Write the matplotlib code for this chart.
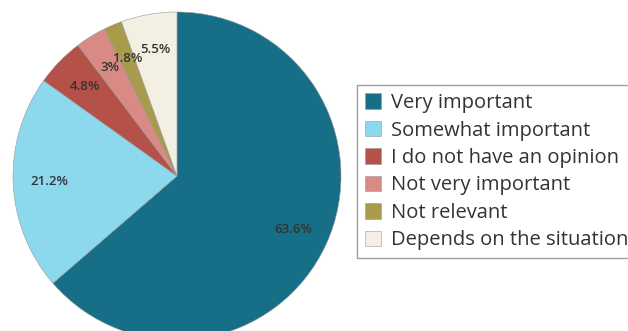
import numpy as np
import matplotlib.pyplot as plt

# Data
labels = ["Very important", "Somewhat important", "I do not have an opinion",
          "Not very important", "Not relevant", "Depends on the situation"]
values = [63.6, 21.2, 4.8, 3.0, 1.8, 5.5]
pct_labels = ["63.6%", "21.2%", "4.8%", "3%", "1.8%", "5.5%"]
colors = ["#166f86", "#8cd9ed", "#b4524a", "#d98a84", "#a89b4c", "#f3f0e3"]

plt.rcParams['font.family'] = ['Open Sans', 'DejaVu Sans']

W, H = 628, 331
fig = plt.figure(figsize=(W / 100, H / 100), dpi=100)

# pie placement in pixels
cx, cy, r = 177, 176, 164
ax = fig.add_axes([(cx - r) / W, (H - cy - r) / H, 2 * r / W, 2 * r / H])

wedges, _ = ax.pie(values, colors=colors, startangle=90, counterclock=False,
                   radius=1, wedgeprops=dict(edgecolor="#999999", linewidth=0.4))
ax.set_xlim(-1, 1)
ax.set_ylim(-1, 1)
ax.axis("off")
for w in wedges:
    w.set_clip_on(False)

# percentage labels
total = sum(values)
ang = 90.0
for v, txt in zip(values, pct_labels):
    span = v / total * 360
    mid = np.deg2rad(ang - span / 2)
    ang -= span
    d = 0.78
    ax.text(d * np.cos(mid), d * np.sin(mid), txt, ha="center", va="center",
            fontsize=9.5, fontweight="semibold", color="#333333")

leg = fig.legend(wedges, labels, loc="upper left",
                 bbox_to_anchor=(357 / W, 1 - 85 / H),
                 fontsize=14.5, frameon=True, fancybox=False,
                 handlelength=0.8, handleheight=0.8, handletextpad=0.5,
                 labelspacing=0.37, borderpad=0.4, borderaxespad=0)
leg.get_frame().set_edgecolor("#888888")
leg.get_frame().set_linewidth(1.0)
for t in leg.get_texts():
    t.set_color("#333333")

fig.savefig("out.png", dpi=100)
